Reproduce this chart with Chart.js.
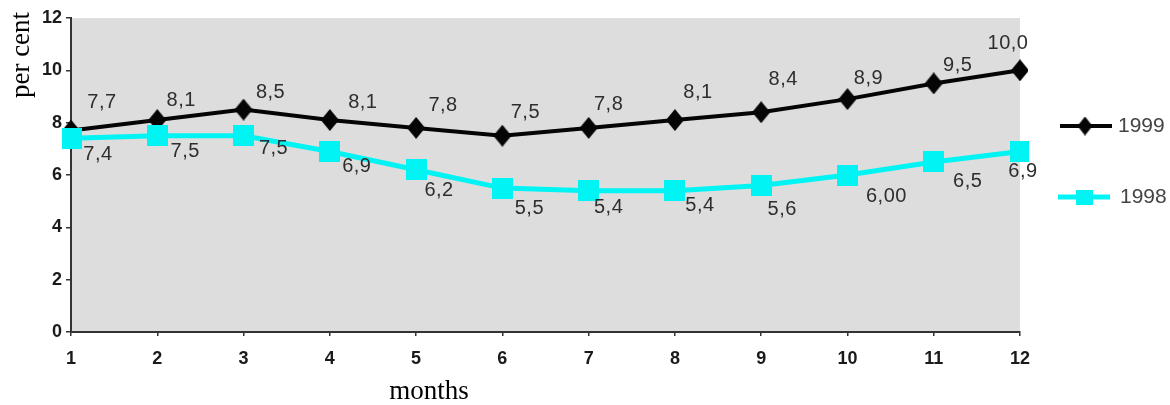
<!DOCTYPE html>
<html>
<head>
<meta charset="utf-8">
<title>Monthly rate, 1998 and 1999</title>
<script src="https://cdn.jsdelivr.net/npm/chart.js@4.4.1/dist/chart.umd.min.js"></script>
<style>
  html, body { margin: 0; padding: 0; background: #ffffff; }
  #wrap { width: 1170px; height: 405px; position: relative; }
</style>
</head>
<body>
<div id="wrap"><canvas id="chart" width="1170" height="405"></canvas></div>
<script>
// Months on the horizontal axis
const months = ['1', '2', '3', '4', '5', '6', '7', '8', '9', '10', '11', '12'];

// Monthly values, per cent
const values1999 = [7.7, 8.1, 8.5, 8.1, 7.8, 7.5, 7.8, 8.1, 8.4, 8.9, 9.5, 10.0];
const values1998 = [7.4, 7.5, 7.5, 6.9, 6.2, 5.5, 5.4, 5.4, 5.6, 6.0, 6.5, 6.9];

// Decimal places printed in each value label
const decimals1999 = [1, 1, 1, 1, 1, 1, 1, 1, 1, 1, 1, 1];
const decimals1998 = [1, 1, 1, 1, 1, 1, 1, 1, 1, 2, 1, 1];

// Vertical axis ticks
const yTicks = [0, 2, 4, 6, 8, 10, 12];

const FONT = '"Liberation Sans", Arial, sans-serif';
const SERIF = '"Liberation Serif", "Times New Roman", serif';

// Marker images
function makeDiamond(w, h, color) {
  const c = document.createElement('canvas');
  c.width = w; c.height = h;
  const g = c.getContext('2d');
  g.fillStyle = color;
  g.beginPath();
  g.moveTo(w / 2, 0);
  g.lineTo(w, h / 2);
  g.lineTo(w / 2, h);
  g.lineTo(0, h / 2);
  g.closePath();
  g.fill();
  return c;
}
function makeSquare(w, h, color) {
  const c = document.createElement('canvas');
  c.width = w; c.height = h;
  const g = c.getContext('2d');
  g.fillStyle = color;
  g.fillRect(0, 0, w, h);
  return c;
}

const BLACK = '#050505';
const CYAN = '#00f4f4';

const diamond = makeDiamond(18, 22, BLACK);
const square = makeSquare(21, 21, CYAN);
const legendDiamond = makeDiamond(15, 19, BLACK);
const legendSquare = makeSquare(17, 15, CYAN);

function fmt(v, d) {
  return v.toFixed(d).replace('.', ',');
}

// Value labels next to each marker, offsets in pixels from the marker centre
const valueLabels = {
  id: 'valueLabels',
  afterDatasetsDraw(chart, args, opts) {
    const ctx = chart.ctx;
    ctx.save();
    ctx.font = '20px ' + FONT;
    ctx.letterSpacing = '0.5px';
    ctx.fillStyle = '#2e2e2e';
    ctx.textAlign = 'center';
    ctx.textBaseline = 'middle';
    chart.data.datasets.forEach((ds, i) => {
      const meta = chart.getDatasetMeta(i);
      const offs = opts.offsets[ds.label];
      const decs = ds.label === '1999' ? decimals1999 : decimals1998;
      meta.data.forEach((pt, j) => {
        const o = offs[j];
        ctx.fillText(fmt(ds.data[j], decs[j]), pt.x + o[0], pt.y + o[1]);
      });
    });
    ctx.restore();
  }
};

// Plot background, axis titles and legend
const decorations = {
  id: 'decorations',
  beforeDraw(chart) {
    const { ctx, chartArea: a } = chart;
    ctx.save();
    ctx.fillStyle = '#ffffff';
    ctx.fillRect(0, 0, chart.width, chart.height);
    ctx.fillStyle = '#dddddd';
    ctx.fillRect(a.left, a.top, a.right - a.left, a.bottom - a.top);
    ctx.restore();
  },
  afterDraw(chart) {
    const ctx = chart.ctx;
    ctx.save();
    ctx.fillStyle = '#000000';
    ctx.font = '27px ' + SERIF;
    ctx.textAlign = 'center';
    ctx.textBaseline = 'middle';
    ctx.fillText('months', 429, 392);
    ctx.translate(22, 55);
    ctx.rotate(-Math.PI / 2);
    ctx.fillText('per cent', 0, 0);
    ctx.restore();

    // legend
    ctx.save();
    ctx.lineCap = 'butt';
    ctx.strokeStyle = BLACK;
    ctx.lineWidth = 4;
    ctx.beginPath(); ctx.moveTo(1060, 126); ctx.lineTo(1112, 126); ctx.stroke();
    ctx.drawImage(legendDiamond, 1085 - 7.5, 126 - 9.5);
    ctx.strokeStyle = CYAN;
    ctx.lineWidth = 5;
    ctx.beginPath(); ctx.moveTo(1058, 197); ctx.lineTo(1110, 197); ctx.stroke();
    ctx.drawImage(legendSquare, 1084 - 8.5, 197 - 7.5);
    ctx.fillStyle = '#444444';
    ctx.font = '21px ' + FONT;
    ctx.textAlign = 'left';
    ctx.textBaseline = 'middle';
    ctx.fillText('1999', 1118, 126);
    ctx.fillText('1998', 1120, 197);
    ctx.restore();
  }
};

new Chart(document.getElementById('chart'), {
  type: 'line',
  data: {
    labels: months,
    datasets: [
      {
        label: '1998',
        data: values1998,
        borderColor: CYAN,
        borderWidth: 5,
        pointStyle: square,
        tension: 0,
        fill: false,
        order: 0
      },
      {
        label: '1999',
        data: values1999,
        borderColor: BLACK,
        borderWidth: 4,
        pointStyle: diamond,
        tension: 0,
        fill: false,
        order: 1
      }
    ]
  },
  options: {
    responsive: false,
    animation: false,
    devicePixelRatio: 1,
    layout: { padding: { top: 18, right: 150, left: 0, bottom: 0 } },
    plugins: {
      legend: { display: false },
      tooltip: { enabled: false },
      valueLabels: {
        offsets: {
          '1999': [[31, -28], [24, -20], [27, -17], [33, -18], [27, -22], [23, -23],
                   [20, -23], [23, -28], [22, -33], [21, -21], [24, -18], [-12, -27]],
          '1998': [[27, 16], [28, 16], [30, 13], [27, 15], [23, 21], [27, 20],
                   [20, 17], [25, 15], [21, 24], [39, 21], [34, 20], [3, 20]]
        }
      }
    },
    scales: {
      x: {
        type: 'category',
        offset: false,
        grid: { display: true, drawOnChartArea: false, tickLength: 4, color: '#333', lineWidth: 1.5 },
        border: { display: true, color: '#333', width: 2 },
        ticks: {
          color: '#1a1a1a',
          font: { family: FONT, size: 18, weight: 'bold' },
          padding: 12,
          maxRotation: 0,
          autoSkip: false
        },
        afterFit(scale) { scale.height = 73; }
      },
      y: {
        min: 0,
        max: 12,
        afterBuildTicks(scale) { scale.ticks = yTicks.map(v => ({ value: v })); },
        grid: { display: true, drawOnChartArea: false, tickLength: 5, color: '#333', lineWidth: 1.5 },
        border: { display: true, color: '#333', width: 2 },
        ticks: {
          color: '#1a1a1a',
          font: { family: FONT, size: 18, weight: 'bold' },
          padding: 4
        },
        afterFit(scale) { scale.width = 71; }
      }
    }
  },
  plugins: [decorations, valueLabels]
});
</script>
</body>
</html>
